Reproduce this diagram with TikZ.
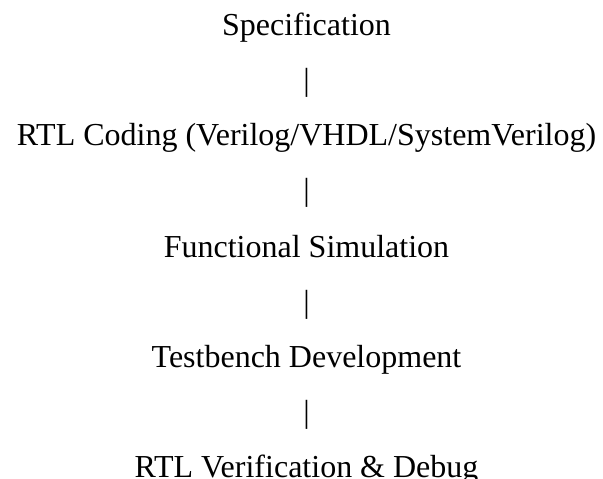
\documentclass[tikz,border=0pt]{standalone}
\usepackage{fontspec}
\setmainfont{Liberation Serif}
\begin{document}
\begin{tikzpicture}[x=1bp,y=-1bp,
  lbl/.style={anchor=base,inner sep=0pt,font=\fontsize{32bp}{38bp}\selectfont,text=black}]
\useasboundingbox (0,0) rectangle (603,479);
\node[lbl] (spec) at (306.5,36) {Specification};
\node[lbl] (b1) at (306.5,91) {|};
\node[lbl] (rtl) at (306.5,146) {RTL Coding (Verilog/VHDL/SystemVerilog)};
\node[lbl] (b2) at (306.5,201) {|};
\node[lbl] (func) at (306.5,257) {Functional Simulation};
\node[lbl] (b3) at (306.5,312) {|};
\node[lbl] (tb) at (306.5,367) {Testbench Development};
\node[lbl] (b4) at (306.5,422) {|};
\node[lbl] (ver) at (306.5,477) {RTL Verification \& Debug};
\end{tikzpicture}
\end{document}
